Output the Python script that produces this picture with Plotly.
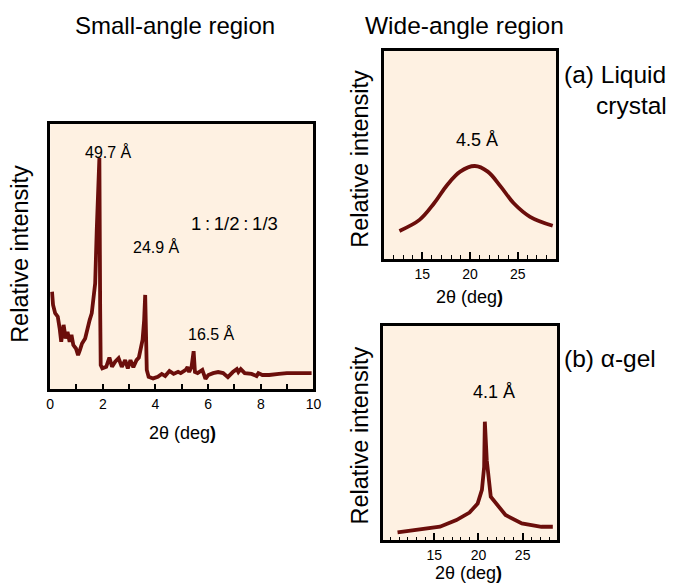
import plotly.graph_objects as go

# Small-angle scan: 2θ (deg) and relative intensity (%)
small_2theta = [0.07, 0.11, 0.19, 0.29, 0.36, 0.42, 0.51, 0.59, 0.66, 0.74, 0.81, 0.88,
                0.98, 1.06, 1.13, 1.21, 1.33, 1.42, 1.50, 1.58, 1.63, 1.71, 1.77, 1.87,
                1.90, 1.92, 1.98, 2.13, 2.25, 2.35, 2.47, 2.60, 2.72, 2.85, 2.95, 3.05,
                3.16, 3.28, 3.37, 3.44, 3.51, 3.57, 3.61, 3.67, 3.74, 3.91, 4.09, 4.24,
                4.37, 4.53, 4.69, 4.86, 4.96, 5.15, 5.22, 5.28, 5.37, 5.45, 5.50, 5.60,
                5.78, 5.90, 6.01, 6.19, 6.38, 6.57, 6.75, 6.94, 7.09, 7.15, 7.24, 7.39,
                7.65, 7.84, 7.91, 8.06, 8.32, 8.69, 8.88, 8.99, 9.93]
small_intensity = [36.7, 31.7, 28.6, 27.3, 22.9, 17.8, 24.2, 19.1, 21.6, 17.8, 20.4, 16.6,
                   15.3, 12.8, 14.7, 17.2, 19.1, 23.5, 26.0, 28.6, 32.9, 39.9, 60.0, 87.2,
                   30.0, 9.0, 7.8, 8.4, 11.9, 8.4, 10.3, 11.6, 8.4, 10.9, 7.8, 10.9,
                   8.2, 10.9, 11.9, 14.7, 18.5, 26.0, 35.5, 7.2, 4.6, 4.0, 4.6, 5.7,
                   4.9, 6.8, 5.7, 6.5, 6.0, 7.2, 8.3, 6.4, 8.3, 14.3, 6.4, 6.0,
                   7.2, 3.8, 5.3, 6.0, 6.4, 6.0, 4.5, 6.4, 7.5, 6.4, 7.5, 6.0,
                   5.7, 4.9, 6.0, 5.3, 5.3, 5.7, 6.0, 6.0, 6.0]

# Wide-angle scan, (a) liquid crystal
lc_2theta = [12.60, 14.70, 16.23, 17.60, 18.96, 20.49, 21.85, 23.21, 24.57, 26.28, 28.65]
lc_intensity = [13.5, 18.8, 26.8, 35.6, 42.0, 44.7, 42.0, 34.8, 26.8, 20.3, 16.0]

# Wide-angle scan, (b) α-gel
gel_2theta = [10.83, 13.06, 15.64, 17.50, 18.98, 19.91, 20.39, 20.64, 20.72, 20.94,
              21.39, 23.06, 24.91, 27.13, 28.42]
gel_intensity = [3.6, 4.7, 6.2, 9.3, 12.8, 17.1, 23.4, 34.2, 55.3, 37.2,
                 20.2, 11.7, 7.8, 6.2, 6.2]

small_ticks = [0, 2, 4, 6, 8, 10]
wide_ticks = [15, 20, 25]

LINE = "#6B0E0B"
BG = "#FEF1E2"
FONT = "Liberation Sans, Arial, sans-serif"

fig = go.Figure()
fig.add_trace(go.Scatter(x=small_2theta, y=small_intensity, xaxis="x", yaxis="y",
                         mode="lines", line=dict(color=LINE, width=3.8)))
fig.add_trace(go.Scatter(x=lc_2theta, y=lc_intensity, xaxis="x2", yaxis="y2",
                         mode="lines", line=dict(color=LINE, width=3.8, shape="spline")))
fig.add_trace(go.Scatter(x=gel_2theta, y=gel_intensity, xaxis="x3", yaxis="y3",
                         mode="lines", line=dict(color=LINE, width=3.8)))

frame = dict(showline=True, mirror=True, linewidth=3, linecolor="black",
             showgrid=False, zeroline=False)
tickfont = dict(family=FONT, size=14, color="black")

fig.update_layout(
    width=678, height=585, margin=dict(l=0, r=0, t=0, b=0),
    paper_bgcolor="white", plot_bgcolor=BG, showlegend=False,
    font=dict(family=FONT, color="black"),
    xaxis=dict(domain=[0.0693, 0.4646], range=[0, 10], tickvals=small_ticks,
               ticks="inside", ticklen=5, tickwidth=1.5, tickcolor="black",
               minor=dict(dtick=1, tick0=0, ticks="inside", ticklen=5, tickwidth=1.5,
                          tickcolor="black"),
               tickfont=tickfont, anchor="y", **frame),
    yaxis=dict(domain=[0.335, 0.788], range=[0, 100], showticklabels=False,
               ticks="", anchor="x", **frame),
    xaxis2=dict(domain=[0.5708, 0.8289], range=[11, 29], tickvals=wide_ticks,
                ticks="inside", ticklen=7, tickwidth=1.5, tickcolor="black",
                minor=dict(dtick=1, tick0=0, ticks="inside", ticklen=3.5, tickwidth=1.2,
                           tickcolor="black"),
                tickfont=tickfont, anchor="y2", **frame),
    yaxis2=dict(domain=[0.5573, 0.9128], range=[0, 100], showticklabels=False,
                ticks="", anchor="x2", **frame),
    xaxis3=dict(domain=[0.5693, 0.8304], range=[9.2, 28.9], tickvals=wide_ticks,
                ticks="inside", ticklen=7, tickwidth=1.5, tickcolor="black",
                minor=dict(dtick=1, tick0=0, ticks="inside", ticklen=3.5, tickwidth=1.2,
                           tickcolor="black"),
                tickfont=tickfont, anchor="y3", **frame),
    yaxis3=dict(domain=[0.0769, 0.4427], range=[0, 100], showticklabels=False,
                ticks="", anchor="x3", **frame),
)


def note(text, x, y, size, xanchor="center", angle=0):
    fig.add_annotation(text=text, x=x, y=y, xref="paper", yref="paper",
                       xanchor=xanchor, yanchor="middle", showarrow=False,
                       textangle=angle, font=dict(family=FONT, size=size, color="black"))


# headings
note("Small-angle region", 0.2566, 0.957, 24)
note("Wide-angle region", 0.692, 0.957, 24.5)

# axis titles
note("Relative intensity", 0.024, 0.566, 23.5, angle=-90)
note("Relative intensity", 0.534, 0.728, 23.5, angle=-90)
note("Relative intensity", 0.534, 0.255, 23.5, angle=-90)
note("2θ (deg<b>)</b>", 0.268, 0.260, 18)
note("2θ (deg<b>)</b>", 0.699, 0.492, 18)
note("2θ (deg<b>)</b>", 0.698, 0.020, 18)

# peak labels
note("49.7 Å", 0.157, 0.741, 16)
note("24.9 Å", 0.2286, 0.578, 16)
note("16.5 Å", 0.3112, 0.429, 16)
note("1\u2009:\u20091/2\u2009:\u20091/3", 0.3466, 0.618, 18.5)
note("4.5 Å", 0.710, 0.761, 18)
note("4.1 Å", 0.736, 0.330, 18)

# panel labels
note("(a) Liquid", 0.8378, 0.872, 24.5, xanchor="left")
note("crystal", 0.998, 0.8205, 24.5, xanchor="right")
note("(b) α-gel", 0.8378, 0.388, 24.5, xanchor="left")

fig.write_html("out.html")
